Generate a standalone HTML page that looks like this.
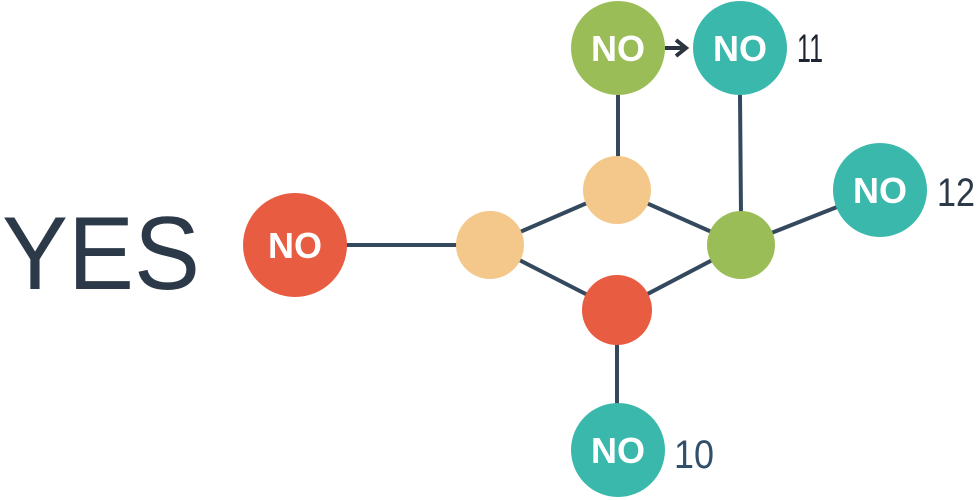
<!DOCTYPE html>
<html><head><meta charset="utf-8"><style>html,body{margin:0;padding:0;background:#fff}svg{display:block}</style></head>
<body>
<svg width="978" height="500" viewBox="0 0 978 500" xmlns="http://www.w3.org/2000/svg" font-family="Liberation Sans, sans-serif">
<g stroke="#34495e" stroke-width="4" fill="none">
<line x1="345" y1="245" x2="460" y2="245"/>
<line x1="490" y1="245" x2="617" y2="190"/>
<line x1="490" y1="245" x2="617" y2="310"/>
<line x1="617" y1="190" x2="741" y2="245"/>
<line x1="617" y1="310" x2="741" y2="245"/>
<line x1="618" y1="95" x2="618" y2="160"/>
<line x1="740" y1="95" x2="741" y2="215"/>
<line x1="741" y1="245" x2="880" y2="190"/>
<line x1="617" y1="340" x2="617" y2="405"/>
<line x1="665" y1="48" x2="684" y2="48" stroke="#2c3440"/>
<polyline points="676,40 686,48 676,56" stroke="#2c3440" stroke-width="4"/>
</g>
<circle cx="295" cy="245" r="52" fill="#e85c41"/>
<circle cx="490" cy="245" r="34" fill="#f4c88a"/>
<circle cx="617" cy="190" r="34" fill="#f4c88a"/>
<circle cx="617" cy="310" r="35" fill="#e85c41"/>
<circle cx="741" cy="245" r="34" fill="#9bbd57"/>
<circle cx="618" cy="48" r="47" fill="#9bbd57"/>
<circle cx="740" cy="48" r="47" fill="#3ab8ac"/>
<circle cx="880" cy="190" r="47" fill="#3ab8ac"/>
<circle cx="618" cy="450" r="47" fill="#3ab8ac"/>
<g fill="#fff" font-weight="bold" font-size="36" text-anchor="middle">
<text x="295" y="258">NO</text>
<text x="618" y="61">NO</text>
<text x="740" y="61">NO</text>
<text x="880" y="203">NO</text>
<text x="618" y="463">NO</text>
</g>
<text x="2" y="289" font-size="104" fill="#2c3948" textLength="198" lengthAdjust="spacingAndGlyphs">YES</text>
<text x="797" y="62" font-size="40" fill="#1e2530" textLength="26" lengthAdjust="spacingAndGlyphs">11</text>
<text x="937" y="206" font-size="40" fill="#2c3948" textLength="38" lengthAdjust="spacingAndGlyphs">12</text>
<text x="674" y="468" font-size="40" fill="#2f4f6a" textLength="40" lengthAdjust="spacingAndGlyphs">10</text>
</svg>
</body></html>
